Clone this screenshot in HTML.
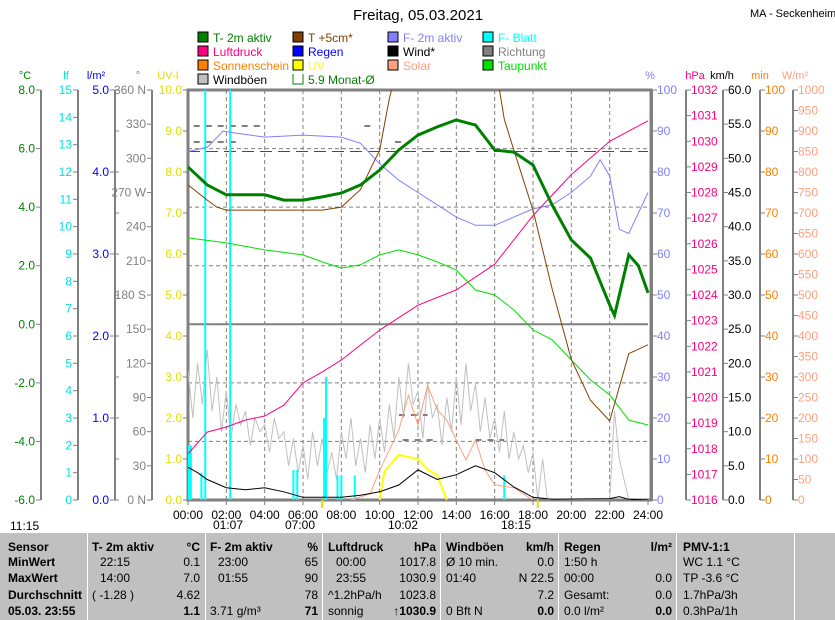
<!DOCTYPE html>
<html><head><meta charset="utf-8">
<style>
body{margin:0;background:#fff;font-family:"Liberation Sans",sans-serif;}
#wrap{position:relative;width:835px;height:620px;overflow:hidden;background:#fff}
svg text{font-family:"Liberation Sans",sans-serif;}
#tbl{position:absolute;left:0;top:533px;width:835px;height:87px;background:#c0c0c0;font-size:12px;}
.col{position:absolute;top:0;height:87px;border-left:1px solid #fff;}
.r{position:absolute;white-space:nowrap}
.b{font-weight:bold}
</style></head><body>
<div id="wrap">
<svg id="svg" width="835" height="533"></svg>
<div id="tbl"></div>
</div>
<script>
// ---- data ----
const tempTimes=[0,1,2,3,4,5,6,7,8,9,10,11,12,13,14,15,16,17,18,19,20,21,22,22.25,23,23.5,24];
const tempValues=[5.37,4.76,4.42,4.42,4.42,4.24,4.24,4.35,4.48,4.76,5.27,5.95,6.46,6.74,6.98,6.8,5.95,5.88,5.44,4.07,2.88,2.26,0.66,0.3,2.37,2.0,1.07];
const soilTimes=[0,1,1.5,2,4,7,8,9,10,10.5,11,13,16,16.5,17,18,19,20,21,22,23,24];
const soilValues=[4.76,4.24,4.0,3.9,3.9,3.9,4.0,4.6,5.95,7.7,9,10,9,7,5.95,3.9,1.2,-1.2,-2.6,-3.3,-1.0,-0.7];
const humTimes=[0,1,1.83,2.5,4,6,8,9,10,11,12,13,14,15,16,17,18,19,20,21,21.5,22,22.5,23,24];
const humValues=[85,86,90,89.5,88.5,89,88.5,87,82,78,75,72,69,67,67,69,71,72,75,79,83,79,66,65,75];
const presTimes=[0,1,2,3,4,5,6,7,8,9,10,12,14,16,18,20,22,24];
const presValues=[1017.8,1018.65,1018.85,1019.12,1019.28,1019.7,1020.57,1021.0,1021.46,1022.05,1022.63,1023.6,1024.2,1025.2,1027.1,1028.7,1030.0,1030.8];
const dewTimes=[0,2,4,6,7,8,9,10,11,12,13,14,15,16,17,18,19,20,21,22,23,24];
const dewValues=[2.95,2.78,2.54,2.37,2.13,1.92,2.03,2.37,2.54,2.37,2.13,1.85,1.17,1.0,0.49,-0.19,-0.53,-1.22,-1.9,-2.41,-3.27,-3.44];
const gustValues=[19,12,20,14,22,13,18,10,16,9,14,11,13,8,12,10,11,7,12,9,10,5,9,4,8,3,10,5,9,4,7,3,10,6,12,5,9,4,11,6,12,7,14,9,18,12,20,14,16,9,17,12,14,8,15,10,18,11,20,13,17,10,15,9,12,7,13,6,10,6,8,4,7,0,6,0,0,0,0,0,0,0,0,0,0,0,0,0,0,13,6,3,0,0,0,0,0];
const windTimes=[0,0.5,1,2,3,4,5,6,7,8,9,10,11,12,13,14,15,16,17,18,19,22,22.5,23,24];
const windValues=[4.8,4,3,1.8,1.5,1.8,1.2,0.4,0.4,0.4,0.7,1.2,2.2,4.4,3,3.7,5,4,1.9,0.4,0.1,0.2,0.5,0.1,0];
const solarTimes=[8.5,9.5,10,11,11.5,12,12.5,13,13.5,14,14.5,15,15.5,16,17,18];
const solarValues=[0,15,73,170,255,183,280,220,195,146,98,146,73,37,30,0];
const uvTimes=[10,10.25,11,12,12.5,13,13.5];
const uvValues=[0,0.7,1.1,1.0,0.75,0.6,0];
const lfTimes=[0.05,0.15,0.7,0.9,2.2,5.5,5.7,7.1,7.2,7.8,8.0,8.7,16.5];
const lfValues=[2,2,1,15.5,15.5,1.1,1.1,3,4.5,0.9,0.9,0.9,0.9];
const monthAvg=5.9;
const hourLabels=["00:00","02:00","04:00","06:00","08:00","10:00","12:00","14:00","16:00","18:00","20:00","22:00","24:00"];

// ---- scales ----
const X0=188,X1=648,Y0=90,Y1=500;
const xT=t=>X0+t*(X1-X0)/24;
const lin=(lo,hi)=>v=>Y1-(v-lo)/(hi-lo)*(Y1-Y0);
const yC=lin(-6,8),yLf=lin(0,15),yPct=lin(0,100),yHpa=lin(1016,1032),yKmh=lin(0,60),yW=lin(0,1000),yUV=lin(0,10);
const svg=document.getElementById('svg');
const NS='http://www.w3.org/2000/svg';
function mk(tag,at,parent){const e=document.createElementNS(NS,tag);for(const k in at)e.setAttribute(k,at[k]);(parent||svg).appendChild(e);return e;}
function txt(x,y,s,fill,anchor,size,name){const e=mk('text',{x:x,y:y,fill:fill,'font-size':size||12,'text-anchor':anchor||'start'});e.textContent=s;return e;}

const defs=mk('defs',{});const cp=mk('clipPath',{id:'pc'},defs);mk('rect',{x:X0,y:Y0,width:X1-X0+2,height:Y1-Y0},cp);

txt(418,20,"Freitag, 05.03.2021","#000","middle",15,"chart-title");
txt(750,17,"MA - Seckenheim","#000","start",11,"station-name");

const leg=[["T- 2m aktiv","#008000",198,42],["T +5cm*","#804000",293,42],["F- 2m aktiv","#8080ff",388,42],["F- Blatt","#00ffff",483,42],
["Luftdruck","#ff0080",198,56],["Regen","#0000ff",293,56],["Wind*","#000000",388,56],["Richtung","#808080",483,56],
["Sonnenschein","#ff8000",198,70],["UV","#ffff00",293,70],["Solar","#ffa080",388,70],["Taupunkt","#00e000",483,70],
["Windböen","#c0c0c0",198,84]];
leg.forEach(l=>{const r=mk('rect',{x:l[2],y:l[3]-10,width:10,height:10,fill:l[1],stroke:'#000'});

txt(l[2]+15,l[3],l[0],l[1]==="#000000"||l[1]==="#c0c0c0"?"#000":l[1],"start",12,"legend-entry");});
mk('path',{d:'M293 74 v10 h10 v-10',fill:'none',stroke:'#008000'});
txt(308,84,"5.9 Monat-Ø","#008000","start",12,"legend-entry");

[["°C",25,"#008000"],["lf",66,"#00e0e0"],["l/m²",96,"#0000ff"],["°",138,"#808080"],["UV-I",168,"#e0e000"],
 ["%",650,"#8080ff"],["hPa",695,"#ff0080"],["km/h",722,"#000"],["min",760,"#ff8000"],["W/m²",795,"#ffa080"]]
.forEach(a=>txt(a[1],79,a[0],a[2],"middle",11,"axis-title"));

function axis(xl,lo,hi,step,fmt,color,side,minor){
  mk('line',{x1:xl,y1:Y0,x2:xl,y2:Y1,stroke:'#808080','stroke-width':2});
  const sc=lin(lo,hi);
  for(let v=lo;v<=hi+1e-9;v+=step){const y=sc(v);
    if(side==='L'){mk('line',{x1:xl-5,y1:y,x2:xl,y2:y,stroke:'#808080'});txt(xl-6,y+4,fmt(v),color,"end",12,"tick-label");}
    else{mk('line',{x1:xl,y1:y,x2:xl+5,y2:y,stroke:'#808080'});txt(xl+5,y+4,fmt(v),color,"start",12,"tick-label");}}
  if(minor)for(let v=lo;v<=hi+1e-9;v+=minor){const y=sc(v);mk('line',{x1:xl,y1:y,x2:xl+4,y2:y,stroke:'#808080'});}
}
axis(41,-6,8,2,v=>v.toFixed(1),"#008000",'L');
axis(78,0,15,1,v=>String(v),"#00e0e0",'L');
axis(115,0,5,1,v=>v.toFixed(1),"#0000ff",'L',0.5);
const dirLab={0:" N",90:"",180:" S",270:" W",360:" N"};
axis(152,0,360,30,v=>v+(dirLab[v]||""),"#808080",'L');
axis(188,0,10,1,v=>v.toFixed(1),"#e0e000",'L');
axis(652,0,100,10,v=>String(v),"#8080ff",'R');
axis(686,1016,1032,1,v=>String(v),"#ff0080",'R');
axis(723,0,60,5,v=>v.toFixed(1),"#000",'R');
axis(760,0,100,10,v=>String(v),"#ff8000",'R');
axis(793,0,1000,50,v=>String(v),"#ffa080",'R');

for(let h=2;h<24;h+=2)mk('line',{x1:xT(h),y1:Y0,x2:xT(h),y2:Y1,stroke:'#808080','stroke-dasharray':'4,3'});
[6,4,2,-2,-4].forEach(c=>mk('line',{x1:X0,y1:yC(c),x2:X1,y2:yC(c),stroke:'#808080','stroke-dasharray':'4,3'}));
mk('line',{x1:X0,y1:yC(0),x2:X1,y2:yC(0),stroke:'#808080','stroke-width':2});
mk('line',{x1:X0,y1:yC(monthAvg),x2:X1,y2:yC(monthAvg),stroke:'#008000','stroke-dasharray':'12,6'});
mk('rect',{x:X0,y:Y0,width:X1-X0+3,height:Y1-Y0,fill:'none',stroke:'#808080','stroke-width':3});
hourLabels.forEach((s,i)=>{const x=xT(i*2);mk('line',{x1:x,y1:Y1,x2:x,y2:Y1+5,stroke:'#808080'});txt(x,519,s,"#000","middle",12,"x-tick-label");});
mk('line',{x1:xT(7),y1:Y1,x2:xT(7),y2:Y1+8,stroke:'#e0e000','stroke-width':2});
mk('line',{x1:xT(18.25),y1:Y1,x2:xT(18.25),y2:Y1+8,stroke:'#e0e000','stroke-width':2});
txt(10,530,"11:15","#000","start",12,"day-length");
txt(213,529,"01:07","#000","start",12,"moonrise");
txt(315,529,"07:00","#000","end",12,"sunrise");
txt(388,529,"10:02","#000","start",12,"moonset");
txt(531,529,"18:15","#000","end",12,"sunset");

const g=mk('g',{'clip-path':'url(#pc)'});
function line(times,vals,sc,color,w,name){
  const d=times.map((t,i)=>(i?'L':'M')+xT(t).toFixed(1)+' '+sc(vals[i]).toFixed(1)).join(' ');
  const p=mk('path',{d:d,fill:'none',stroke:color,'stroke-width':w},g);
  }
const gustTimes=gustValues.map((v,i)=>i*0.25);
line(gustTimes,gustValues,yKmh,'#c0c0c0',1,'gust-line');
// direction dashes
[[126,0.3,4],[142,0.3,2.5],[126,9.2,9.8],[142,10.8,11.3],[440,11.2,13],[440,15,16.5],[415,11,12.5]].forEach(d=>mk('line',{x1:xT(d[1]),y1:d[0],x2:xT(d[2]),y2:d[0],stroke:'#808080','stroke-width':2,'stroke-dasharray':'6,6'},g));
lfTimes.forEach((t,i)=>{const s=mk('line',{x1:xT(t),y1:Y1,x2:xT(t),y2:yLf(lfValues[i]),stroke:'#00ffff','stroke-width':2},g);
});
line(solarTimes,solarValues,yW,'#ffa080',1,'solar-line');
line(uvTimes,uvValues,yUV,'#ffff00',2,'uv-line');
line(windTimes,windValues,yKmh,'#000',1,'wind-line');
line(humTimes,humValues,yPct,'#8080ff',1,'humidity-line');
line(presTimes,presValues,yHpa,'#ff0080',1,'pressure-line');
line(dewTimes,dewValues,yC,'#00e000',1,'dewpoint-line');
line(soilTimes,soilValues,yC,'#804000',1,'soil-temp-line');
line(tempTimes,tempValues,yC,'#008000',3,'temperature-line');

const tb=document.getElementById('tbl');
[87,205,322,440,558,676,794].forEach(x=>{const c=document.createElement('div');c.className='col';c.style.left=x+'px';
tb.appendChild(c);});
const rows=[15,30,46,63,79];
function cell(x,r,s,b,right){const d=document.createElement('div');d.className='r'+(b?' b':'');d.textContent=s;
d.style.top=(rows[r]-8)+'px';if(right){d.style.right=(835-x)+'px';}else d.style.left=x+'px';
tb.appendChild(d);}
[["Sensor",1],["MinWert",1],["MaxWert",1],["Durchschnitt",1],["05.03. 23:55",1]].forEach((c,i)=>cell(8,i,c[0],1));
const cols=[
 [92,200,["T- 2m aktiv","22:15","14:00","( -1.28 )",""],["°C","0.1","7.0","4.62","1.1"]],
 [210,318,["F- 2m aktiv","23:00","01:55","","3.71 g/m³"],["%","65","90","78","71"]],
 [328,436,["Luftdruck","00:00","23:55","^1.2hPa/h","sonnig"],["hPa","1017.8","1030.9","1023.8","↑1030.9"]],
 [446,554,["Windböen","Ø 10 min.","01:40","","0 Bft N"],["km/h","0.0","N 22.5","7.2","0.0"]],
 [564,672,["Regen","1:50 h","00:00","Gesamt:","0.0 l/m²"],["l/m²","","0.0","0.0","0.0"]],
];
cols.forEach(c=>{c[2].forEach((s,i)=>cell(c[0]+(i>0&&i<3&&c[0]!=446&&c[0]!=564?8:0),i,s,i==0));c[3].forEach((s,i)=>cell(c[1],i,s,i==0||i==4,true));});
["PMV-1:1","WC 1.1 °C","TP -3.6 °C","1.7hPa/3h","0.3hPa/1h"].forEach((s,i)=>cell(683,i,s,i==0));
</script>
</body></html>
